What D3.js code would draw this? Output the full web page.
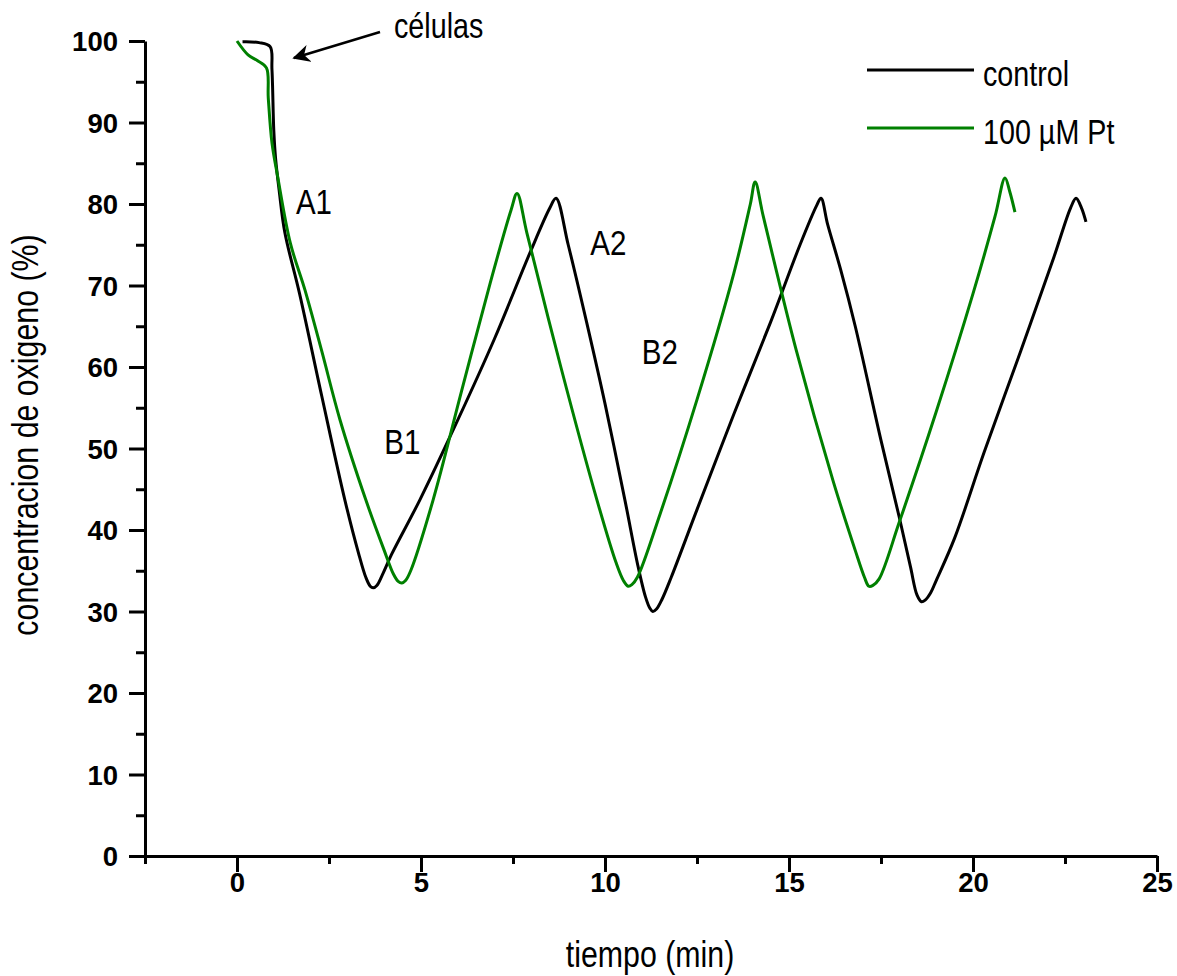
<!DOCTYPE html>
<meta charset="utf-8">
<script src="https://d3js.org/d3.v7.min.js"></script>
<style>
  body { margin: 0; background: #fff; }
  .narrow { font-family: "Liberation Sans Narrow", "Arial Narrow", "Liberation Sans", Arial, sans-serif; }
  .tick text { font-family: "Liberation Sans", Arial, sans-serif; font-weight: bold; font-size: 27.5px; }
</style>
<div id="my_dataviz"></div>
<script>

// time (min) / oxygen (%)
const controlTime = [0.15, 0.6, 0.9, 0.95, 1.0, 1.05, 1.15, 1.3, 1.7, 2.3, 2.93, 3.3, 3.5, 3.62, 3.7, 3.8, 3.95, 4.2, 4.97, 6.0, 7.0, 7.96, 8.5, 8.67, 9.0, 9.5, 10.0, 10.54, 10.9, 11.1, 11.22, 11.3, 11.4, 11.55, 11.8, 12.5, 13.5, 14.5, 15.3, 15.75, 15.87, 16.05, 16.4, 16.8, 17.5, 18.0, 18.3, 18.48, 18.6, 18.7, 18.85, 19.0, 19.5, 20.3, 21.3, 22.2, 22.65, 22.8, 22.95, 23.07];
const controlO2   = [99.9, 99.8, 99.3, 96.5, 89, 85.5, 81.5, 76.5, 69, 56.5, 43.7, 37.2, 34.2, 33.1, 32.9, 33.2, 34.5, 37, 43.7, 53.5, 63.5, 74, 79.5, 80.7, 75, 65.5, 55.5, 43.7, 35.5, 31.8, 30.4, 30, 30.3, 31.5, 34.2, 42.5, 54.2, 65.5, 75, 79.8, 80.7, 77.5, 72, 65, 51, 41.5, 35.5, 32, 31.2, 31.4, 32.3, 33.8, 39, 49.5, 62, 73.5, 79.5, 80.7, 79.5, 77.8];

const ptTime = [0.0, 0.3, 0.55, 0.8, 0.85, 0.95, 1.1, 1.45, 1.85, 2.3, 2.8, 3.5, 4.0, 4.25, 4.38, 4.48, 4.58, 4.72, 5.33, 6.1, 6.88, 7.45, 7.61, 7.88, 8.8, 9.78, 10.3, 10.5, 10.63, 10.73, 10.88, 11.5, 12.5, 13.5, 13.95, 14.08, 14.3, 15.2, 16.2, 16.8, 17.05, 17.17, 17.28, 17.45, 18.0, 19.0, 20.0, 20.6, 20.87, 21.0, 21.14];
const ptO2   = [100, 98.3, 97.6, 96.7, 93, 87.5, 83.5, 75.2, 69.4, 62, 53.5, 43.7, 37.5, 34.6, 33.7, 33.5, 33.8, 35, 43.7, 57, 70.3, 79.3, 81.3, 76.4, 60, 43.7, 36, 33.8, 33.1, 33.3, 34.2, 42, 56, 71.5, 80, 82.7, 78.5, 62, 46, 37.5, 34.2, 33.1, 33.2, 34, 41, 54.5, 69, 78.5, 83.2, 81.5, 79];

const seriesNames = ["control", "100 µM Pt"];
const seriesColors = ["#000000", "#008000"];

const xTicks = [-2.5, 0, 2.5, 5, 7.5, 10, 12.5, 15, 17.5, 20, 22.5, 25];
const yTicks = [0, 5, 10, 15, 20, 25, 30, 35, 40, 45, 50, 55, 60, 65, 70, 75, 80, 85, 90, 95, 100];

const peakLabels = [
  {text: "A1", t: 1.6, v: 78.8},
  {text: "B1", t: 4.0, v: 49.3},
  {text: "A2", t: 9.6, v: 73.7},
  {text: "B2", t: 11.0, v: 60.4}
];

const width = 1177, height = 976;

const svg = d3.select("#my_dataviz")
  .append("svg")
    .attr("width", width)
    .attr("height", height);

const x = d3.scaleLinear().domain([-2.5, 25]).range([145, 1157]);
const y = d3.scaleLinear().domain([0, 100]).range([856, 41]);

// no narrow font installed, so squeeze the regular one
function narrowText(px, py, size, str, rot) {
  return svg.append("text")
      .attr("class", "narrow")
      .attr("transform", `translate(${px},${py}) rotate(${rot || 0}) scale(0.82,1)`)
      .style("font-size", size + "px")
      .text(str);
}

// x axis
const xAxis = svg.append("g")
    .attr("transform", `translate(0, ${y(0)})`)
    .call(d3.axisBottom(x).tickValues(xTicks)
      .tickSize(0).tickPadding(30)
      .tickFormat(d => d % 5 === 0 ? d : ""));
xAxis.selectAll(".tick line")
    .attr("y2", d => d % 5 === 0 ? 16 : 8);

// y axis
const yAxis = svg.append("g")
    .attr("transform", `translate(${x(-2.5)}, 0)`)
    .call(d3.axisLeft(y).tickValues(yTicks)
      .tickSize(0).tickPadding(27)
      .tickFormat(d => d % 10 === 0 ? d : ""));
yAxis.selectAll(".tick line")
    .attr("x2", d => d % 10 === 0 ? -16 : -9);

svg.selectAll(".domain").attr("stroke-width", 3).attr("stroke", "#000");
svg.selectAll(".tick line").attr("stroke-width", 3).attr("stroke", "#000");
svg.selectAll(".tick text").attr("fill", "#000");
xAxis.selectAll(".tick text").attr("dy", "0.2em");
yAxis.selectAll(".tick text").attr("dy", "0.36em");

// axis titles
narrowText(650, 967, 37, "tiempo (min)").attr("text-anchor", "middle");
narrowText(38, 435, 37, "concentracion de oxigeno (%)", -90).attr("text-anchor", "middle");

// lines
const line = d3.line()
    .curve(d3.curveCatmullRom.alpha(0.5))
    .x(d => x(d[0]))
    .y(d => y(d[1]));

const series = [
  d3.zip(controlTime, controlO2),
  d3.zip(ptTime, ptO2)
];

series.forEach(function(s, i) {
  svg.append("path")
      .datum(s)
      .attr("fill", "none")
      .attr("stroke", seriesColors[i])
      .attr("stroke-width", 3)
      .attr("stroke-linejoin", "round")
      .attr("d", line);
});

// peak labels
peakLabels.forEach(function(p) {
  narrowText(x(p.t), y(p.v), 36, p.text);
});

// arrow for "células"
svg.append("defs").append("marker")
    .attr("id", "arrowhead")
    .attr("viewBox", "0 0 10 10")
    .attr("refX", 9).attr("refY", 5)
    .attr("markerWidth", 7).attr("markerHeight", 7)
    .attr("orient", "auto")
  .append("path")
    .attr("d", "M0,0 L10,5 L0,10 L3,5 Z")
    .attr("fill", "#000");

svg.append("line")
    .attr("x1", 380).attr("y1", 32)
    .attr("x2", 294).attr("y2", 58)
    .attr("stroke", "#000")
    .attr("stroke-width", 2.5)
    .attr("marker-end", "url(#arrowhead)");

narrowText(394, 38, 35, "células");

// legend
seriesNames.forEach(function(name, i) {
  const ly = 70 + i * 58;
  svg.append("line")
      .attr("x1", 867).attr("x2", 974)
      .attr("y1", ly).attr("y2", ly)
      .attr("stroke", seriesColors[i])
      .attr("stroke-width", 3);
  narrowText(983, ly + 16, 35, name);
});

</script>
